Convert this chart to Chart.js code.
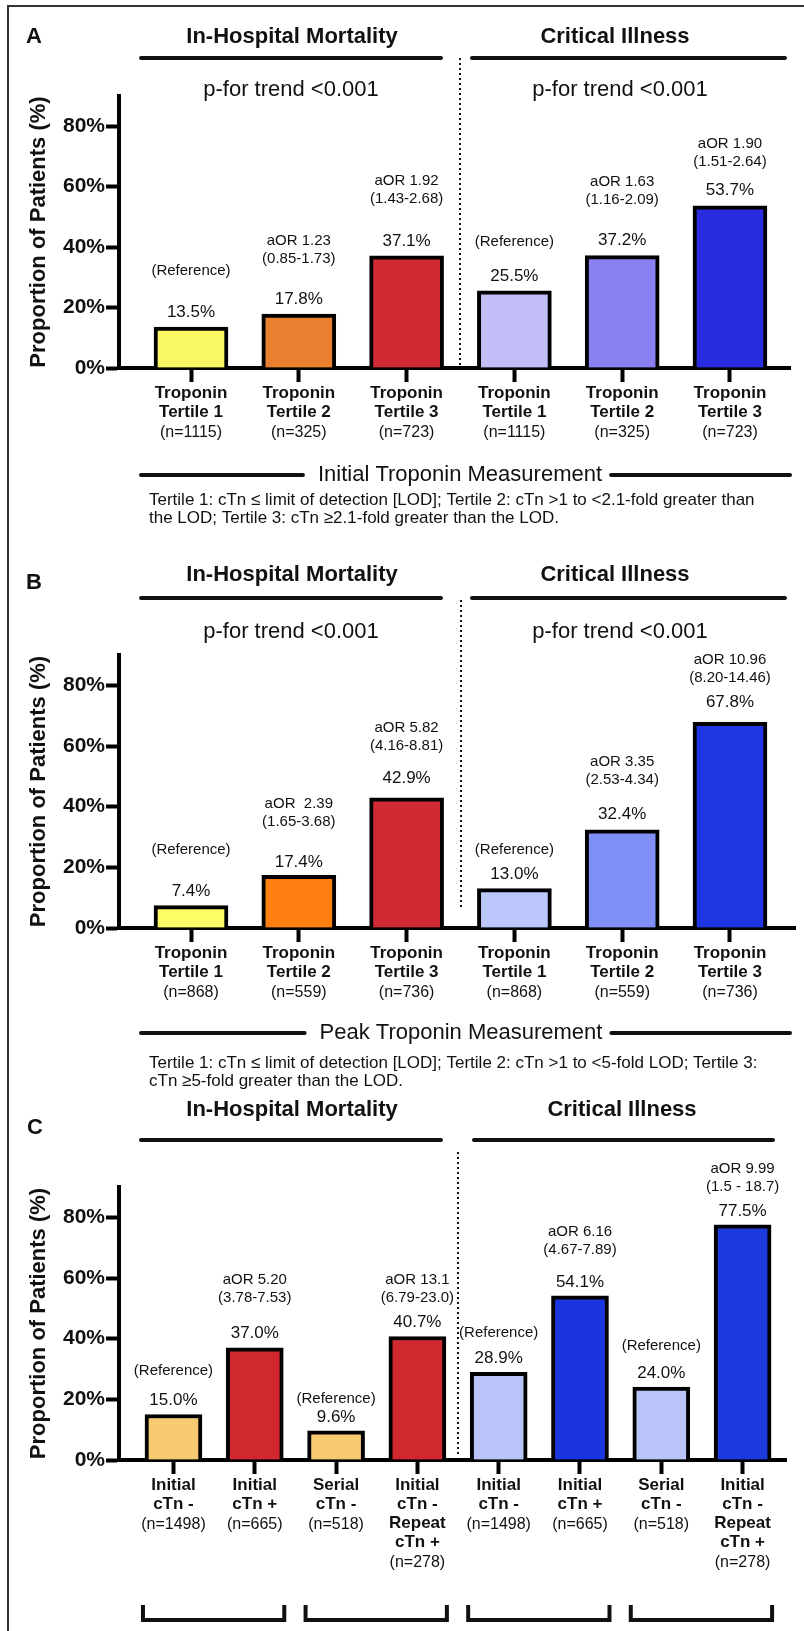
<!DOCTYPE html>
<html lang="en">
<head>
<meta charset="UTF-8">
<title>Troponin and outcomes</title>
<script src="https://cdn.jsdelivr.net/npm/chart.js"></script>
<style>
  html, body { margin: 0; padding: 0; background: #fff; }
  body { width: 804px; height: 1631px; position: relative; overflow: hidden; }
  .frame { position: absolute; left: 7px; top: 5px; width: 820px; height: 1700px;
           border-left: 2px solid #333; border-top: 2px solid #333; }
  canvas { position: absolute; left: 0; }
</style>
</head>
<body>
<div class="frame"></div>
<canvas id="chartA" width="804" height="540" style="top:0px"></canvas>
<canvas id="chartB" width="804" height="553" style="top:540px"></canvas>
<canvas id="chartC" width="804" height="538" style="top:1093px"></canvas>

<script>
const FONT = '"Liberation Sans", Arial, Helvetica, sans-serif';

// ---------- data ----------
const groupTitles = ['In-Hospital Mortality', 'Critical Illness'];
const trendText = 'p-for trend <0.001';
const yTicks = [0, 20, 40, 60, 80];
const yTitle = 'Proportion of Patients (%)';

// A - initial troponin tertiles
const catA = [['Troponin', 'Tertile 1'], ['Troponin', 'Tertile 2'], ['Troponin', 'Tertile 3']];
const nA = [1115, 325, 723];
const mortA = [13.5, 17.8, 37.1];
const critA = [25.5, 37.2, 53.7];
const aorMortA = [null, 'aOR 1.23', 'aOR 1.92'];
const ciMortA = [null, '(0.85-1.73)', '(1.43-2.68)'];
const aorCritA = [null, 'aOR 1.63', 'aOR 1.90'];
const ciCritA = [null, '(1.16-2.09)', '(1.51-2.64)'];
const colorsA = ['#FBF866', '#E8802F', '#D12A33', '#C2BEF8', '#8B80F2', '#2A2CE0'];
const measureA = 'Initial Troponin Measurement';
const footA = ['Tertile 1: cTn \u2264 limit of detection [LOD]; Tertile 2: cTn >1 to <2.1-fold greater than',
               'the LOD; Tertile 3: cTn \u22652.1-fold greater than the LOD.'];

// B - peak troponin tertiles
const catB = [['Troponin', 'Tertile 1'], ['Troponin', 'Tertile 2'], ['Troponin', 'Tertile 3']];
const nB = [868, 559, 736];
const mortB = [7.4, 17.4, 42.9];
const critB = [13.0, 32.4, 67.8];
const aorMortB = [null, 'aOR  2.39', 'aOR 5.82'];
const ciMortB = [null, '(1.65-3.68)', '(4.16-8.81)'];
const aorCritB = [null, 'aOR 3.35', 'aOR 10.96'];
const ciCritB = [null, '(2.53-4.34)', '(8.20-14.46)'];
const colorsB = ['#FEFC66', '#FF8010', '#D12A33', '#BCC7FC', '#7F8FF6', '#1F36E2'];
const measureB = 'Peak Troponin Measurement';
const footB = ['Tertile 1: cTn \u2264 limit of detection [LOD]; Tertile 2: cTn >1 to <5-fold LOD; Tertile 3:',
               'cTn \u22655-fold greater than the LOD.'];

// C - initial vs serial troponin
const catC = [['Initial', 'cTn -'], ['Initial', 'cTn +'], ['Serial', 'cTn -'], ['Initial', 'cTn -', 'Repeat', 'cTn +']];
const nC = [1498, 665, 518, 278];
const mortC = [15.0, 37.0, 9.6, 40.7];
const critC = [28.9, 54.1, 24.0, 77.5];
const aorMortC = [null, 'aOR 5.20', null, 'aOR 13.1'];
const ciMortC = [null, '(3.78-7.53)', null, '(6.79-23.0)'];
const aorCritC = [null, 'aOR 6.16', null, 'aOR 9.99'];
const ciCritC = [null, '(4.67-7.89)', null, '(1.5 - 18.7)'];
const colorsC = ['#F7CA72', '#D1272F', '#F7CA72', '#D1272F', '#B9C5F9', '#1A34E0', '#B9C5F9', '#1B3BDF'];
const bracketsC = [[1, 2], [3, 4], [5, 6], [7, 8]];

// ---------- drawing ----------
function line(ctx, x1, y1, x2, y2, w) {
  ctx.beginPath();
  ctx.lineWidth = w;
  ctx.moveTo(x1, y1);
  ctx.lineTo(x2, y2);
  ctx.stroke();
}

const decor = {
  id: 'decor',
  afterDraw(chart, args, o) {
    const ctx = chart.ctx, xs = chart.scales.x, ys = chart.scales.y;
    const t = v => v - o.top;
    ctx.save();
    ctx.fillStyle = '#111';
    ctx.strokeStyle = '#111';
    ctx.lineCap = 'round';
    ctx.textBaseline = 'middle';

    ctx.font = 'bold 22px ' + FONT;
    ctx.textAlign = 'left';
    ctx.fillText(o.letter, o.letterX, t(o.letterY));

    ctx.textAlign = 'center';
    groupTitles.forEach((g, k) => {
      ctx.font = 'bold 22px ' + FONT;
      ctx.fillText(g, o.headerX[k], t(o.headerY));
      line(ctx, o.rules[k][0], t(o.ruleY), o.rules[k][1], t(o.ruleY), 4);
      if (o.trendY) {
        ctx.font = '22px ' + FONT;
        ctx.fillText(trendText, o.trendX[k], t(o.trendY));
      }
    });

    // dotted divider between the two outcomes
    ctx.save();
    ctx.setLineDash([2, 3]);
    ctx.lineCap = 'butt';
    const dx = Math.round(xs.getPixelForValue(o.split));
    line(ctx, dx, t(o.dotTop), dx, t(o.dotBottom), 2);
    ctx.restore();

    const base = ys.getPixelForValue(0);
    o.values.forEach((v, i) => {
      const px = xs.getPixelForValue(i + 1);
      const vy = ys.getPixelForValue(v) - o.valueLift[i];
      ctx.font = '17px ' + FONT;
      ctx.fillText(v.toFixed(1) + '%', px, vy);
      ctx.font = '15px ' + FONT;
      const ny = vy - o.noteLift[i];
      if (o.aor[i]) {
        ctx.fillText(o.ci[i], px, ny);
        ctx.fillText(o.aor[i], px, ny - 18);
      } else {
        ctx.fillText('(Reference)', px, ny);
      }
      // category label under the axis
      let ly = base + 25;
      ctx.font = 'bold 17px ' + FONT;
      o.cats[i].forEach(s => { ctx.fillText(s, px, ly); ly += 19; });
      ctx.font = '16px ' + FONT;
      ctx.fillText('(n=' + o.ns[i] + ')', px, ly + 2);
    });

    if (o.measure) {
      ctx.font = '22px ' + FONT;
      const y = t(o.measureY);
      ctx.fillText(o.measure, o.measureX, y);
      const w = ctx.measureText(o.measure).width;
      line(ctx, 141, y, o.measureX - w / 2 - 15, y, 4);
      line(ctx, o.measureX + w / 2 + 9, y, 790, y, 4);
      ctx.font = '17px ' + FONT;
      ctx.textAlign = 'left';
      o.foot.forEach((s, k) => ctx.fillText(s, 149, t(o.footY) + k * 18));
    }

    if (o.brackets) {
      ctx.lineCap = 'butt';
      ctx.lineJoin = 'miter';
      o.brackets.forEach(([a, b]) => {
        const x1 = xs.getPixelForValue(a) - o.barW / 2 - 2;
        const x2 = xs.getPixelForValue(b) + o.barW / 2 + 1;
        ctx.beginPath();
        ctx.lineWidth = 4;
        ctx.moveTo(x1, t(o.bracketTop));
        ctx.lineTo(x1, t(o.bracketY));
        ctx.lineTo(x2, t(o.bracketY));
        ctx.lineTo(x2, t(o.bracketTop));
        ctx.stroke();
      });
    }
    ctx.restore();
  }
};

function makePanel(o) {
  const pts = o.values.map((v, i) => ({ x: i + 1, y: v }));
  new Chart(document.getElementById(o.id), {
    type: 'bar',
    data: {
      datasets: [{
        data: pts,
        backgroundColor: o.colors,
        borderColor: '#000',
        borderWidth: 4,
        borderSkipped: 'start',
        barThickness: o.barW
      }]
    },
    options: {
      responsive: false,
      animation: false,
      events: [],
      layout: { padding: { top: o.plotTop - o.top, right: 804 - o.plotRight, bottom: 0, left: 0 } },
      plugins: { legend: { display: false }, tooltip: { enabled: false }, decor: o },
      scales: {
        x: {
          type: 'linear', min: o.xMin, max: o.xMax, offset: false,
          afterBuildTicks: s => { s.ticks = o.values.map((v, i) => ({ value: i + 1 })); },
          afterFit: s => { s.height = o.top + o.height - o.plotBottom; },
          ticks: { display: false },
          grid: { offset: false, drawOnChartArea: false, drawTicks: true, tickLength: 14, tickWidth: 4, tickColor: '#000' },
          border: { display: true, width: 4, color: '#000' }
        },
        y: {
          min: 0, max: 90,
          afterBuildTicks: s => { s.ticks = yTicks.map(v => ({ value: v })); },
          afterFit: s => { s.width = 119; },
          ticks: {
            callback: v => v + '%',
            color: '#111', padding: 1,
            font: { family: FONT, size: 21, weight: 'bold' }
          },
          title: {
            display: true, text: yTitle, color: '#111',
            font: { family: FONT, size: 22, weight: 'bold' },
            padding: { top: 26, bottom: 0 }
          },
          grid: { drawOnChartArea: false, drawTicks: true, tickLength: 13, tickWidth: 4, tickColor: '#000' },
          border: { display: true, width: 4, color: '#000' }
        }
      }
    },
    plugins: [decor]
  });
}

makePanel({
  id: 'chartA', top: 0, height: 540, letter: 'A', letterX: 26, letterY: 37,
  headerX: [292, 615], headerY: 37, rules: [[141, 441], [472, 785]], ruleY: 58,
  trendX: [291, 620], trendY: 90, split: 3.5, dotTop: 58, dotBottom: 368,
  plotTop: 96, plotBottom: 368, plotRight: 790, xMin: 0.332, xMax: 6.557, barW: 74,
  cats: catA.concat(catA), ns: nA.concat(nA), values: mortA.concat(critA),
  aor: aorMortA.concat(aorCritA), ci: ciMortA.concat(ciCritA), colors: colorsA,
  valueLift: [15, 15, 15, 15, 15, 15], noteLift: [41, 40, 42, 34, 41, 29],
  measure: measureA, measureX: 460, measureY: 475, foot: footA, footY: 500
});

makePanel({
  id: 'chartB', top: 540, height: 553, letter: 'B', letterX: 26, letterY: 583,
  headerX: [292, 615], headerY: 575, rules: [[141, 441], [472, 785]], ruleY: 598,
  trendX: [291, 620], trendY: 632, split: 3.5, dotTop: 600, dotBottom: 907,
  plotTop: 655, plotBottom: 928, plotRight: 795, xMin: 0.332, xMax: 6.603, barW: 74,
  cats: catB.concat(catB), ns: nB.concat(nB), values: mortB.concat(critB),
  aor: aorMortB.concat(aorCritB), ci: ciMortB.concat(ciCritB), colors: colorsB,
  valueLift: [14, 13, 20, 14, 15, 20], noteLift: [42, 40, 32, 25, 35, 24],
  measure: measureB, measureX: 461, measureY: 1033, foot: footB, footY: 1063
});

makePanel({
  id: 'chartC', top: 1093, height: 538, letter: 'C', letterX: 27, letterY: 1128,
  headerX: [292, 622], headerY: 1110, rules: [[141, 441], [474, 773]], ruleY: 1140,
  trendY: null, split: 4.5, dotTop: 1152, dotBottom: 1457,
  plotTop: 1187, plotBottom: 1460, plotRight: 786, xMin: 0.330, xMax: 8.534, barW: 57,
  cats: catC.concat(catC), ns: nC.concat(nC), values: mortC.concat(critC),
  aor: aorMortC.concat(aorCritC), ci: ciMortC.concat(ciCritC), colors: colorsC,
  valueLift: [14, 14, 14, 14, 14, 14, 14, 14], noteLift: [30, 36, 18, 25, 25, 32, 27, 24],
  brackets: bracketsC, bracketTop: 1605, bracketY: 1620
});
</script>
</body>
</html>
